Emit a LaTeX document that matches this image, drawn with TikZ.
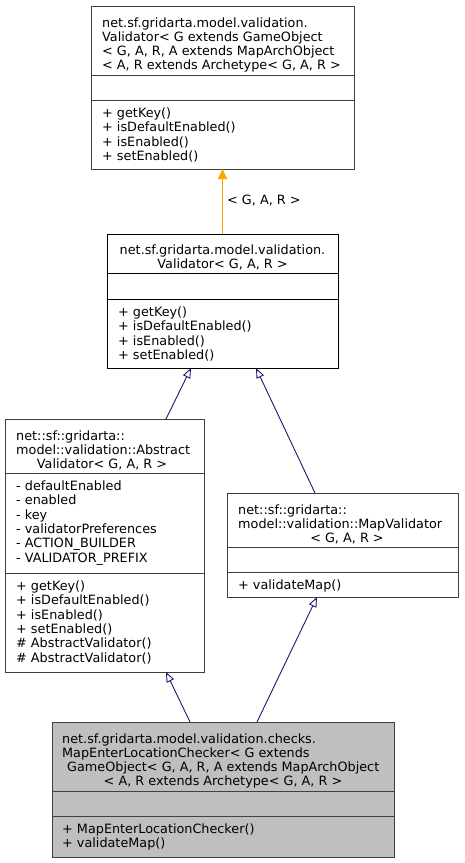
\documentclass[tikz,border=0pt]{standalone}
\usepackage{fontspec}
\setmainfont{DejaVu Sans}
\usetikzlibrary{arrows.meta}
\definecolor{bordergray}{HTML}{404040}
\definecolor{rootfill}{HTML}{BFBFBF}
\definecolor{edgeblue}{HTML}{191970}
\definecolor{tmplorange}{HTML}{FFA500}
\begin{document}
\begin{tikzpicture}[x=1pt,y=-1pt,
  font=\fontsize{12.8}{14.3}\selectfont,
  classbox/.style={draw=bordergray, fill=white, line width=1pt, inner sep=0pt, outer sep=0pt, anchor=north west},
  sepline/.style={draw=bordergray, line width=1pt},
  lt/.style={inner sep=0pt, anchor=base west},
  ct/.style={inner sep=0pt, anchor=base},
  inherit/.style={draw=edgeblue, line width=0.9pt, -{Triangle[open, length=10pt, width=8pt, fill=white]}},
  tmpl/.style={draw=tmplorange, line width=0.9pt, -{Triangle[length=10pt, width=9pt]}}
]
\useasboundingbox (0,0) rectangle (464,863);

% ---------- Box 1 ----------
\node[classbox, minimum width=263pt, minimum height=163pt] (b1) at (91,6) {};
\draw[sepline] (91,75) -- (354,75);
\draw[sepline] (91,100) -- (354,100);
\node[lt] (b1t1) at (102,27) {net.sf.gridarta.model.validation.};
\node[lt] (b1t2) at (102,41.3) {Validator< G extends GameObject};
\node[lt] (b1t3) at (102,55.6) {< G, A, R, A extends MapArchObject};
\node[lt] (b1t4) at (102,69.9) {< A, R extends Archetype< G, A, R >};
\node[lt] (b1m1) at (102,117.5) {+ getKey()};
\node[lt] (b1m2) at (102,131.8) {+ isDefaultEnabled()};
\node[lt] (b1m3) at (102,146.1) {+ isEnabled()};
\node[lt] (b1m4) at (102,160.4) {+ setEnabled()};

% ---------- Box 2 ----------
\node[classbox, draw=black, minimum width=231pt, minimum height=134pt] (b2) at (107,234) {};
\draw[sepline, draw=black] (107,273) -- (338,273);
\draw[sepline, draw=black] (107,299) -- (338,299);
\node[ct] (b2t1) at (222.5,254) {net.sf.gridarta.model.validation.};
\node[ct] (b2t2) at (222.5,268.3) {Validator< G, A, R >};
\node[lt] (b2m1) at (118,316.5) {+ getKey()};
\node[lt] (b2m2) at (118,330.8) {+ isDefaultEnabled()};
\node[lt] (b2m3) at (118,345.1) {+ isEnabled()};
\node[lt] (b2m4) at (118,359.4) {+ setEnabled()};

% ---------- Box 3 ----------
\node[classbox, minimum width=199pt, minimum height=253pt] (b3) at (5,419) {};
\draw[sepline] (5,473) -- (204,473);
\draw[sepline] (5,573) -- (204,573);
\node[lt] (b3t1) at (16,440) {net::sf::gridarta::};
\node[lt] (b3t2) at (16,454.3) {model::validation::Abstract};
\node[ct] (b3t3) at (102,468.6) {Validator< G, A, R >};
\node[lt] (b3a1) at (16,490.5) {- defaultEnabled};
\node[lt] (b3a2) at (16,504.8) {- enabled};
\node[lt] (b3a3) at (16,519.1) {- key};
\node[lt] (b3a4) at (16,533.4) {- validatorPreferences};
\node[lt] (b3a5) at (16,547.7) {- ACTION\_BUILDER};
\node[lt] (b3a6) at (16,562) {- VALIDATOR\_PREFIX};
\node[lt] (b3m1) at (16,590.5) {+ getKey()};
\node[lt] (b3m2) at (16,604.8) {+ isDefaultEnabled()};
\node[lt] (b3m3) at (16,619.1) {+ isEnabled()};
\node[lt] (b3m4) at (16,633.4) {+ setEnabled()};
\node[lt] (b3m5) at (16,647.7) {\# AbstractValidator()};
\node[lt] (b3m6) at (16,662) {\# AbstractValidator()};

% ---------- Box 4 ----------
\node[classbox, minimum width=231pt, minimum height=104pt] (b4) at (227,493) {};
\draw[sepline] (227,547) -- (458,547);
\draw[sepline] (227,572) -- (458,572);
\node[lt] (b4t1) at (238,514) {net::sf::gridarta::};
\node[lt] (b4t2) at (238,528.3) {model::validation::MapValidator};
\node[ct] (b4t3) at (347,542.6) {< G, A, R >};
\node[lt] (b4m1) at (238,589.5) {+ validateMap()};

% ---------- Box 5 ----------
\node[classbox, fill=rootfill, minimum width=342pt, minimum height=135pt] (b5) at (52,722) {};
\draw[sepline] (52,791) -- (394,791);
\draw[sepline] (52,816) -- (394,816);
\node[lt] (b5t1) at (62,743) {net.sf.gridarta.model.validation.checks.};
\node[lt] (b5t2) at (62,757.3) {MapEnterLocationChecker< G extends};
\node[lt] (b5t3) at (67,771.6) {GameObject< G, A, R, A extends MapArchObject};
\node[ct] (b5t4) at (223,785.9) {< A, R extends Archetype< G, A, R >};
\node[lt] (b5m1) at (62,833.5) {+ MapEnterLocationChecker()};
\node[lt] (b5m2) at (62,847.8) {+ validateMap()};

% ---------- connector end points ----------
\coordinate (e1s) at (222.5,234);
\coordinate (e1t) at (222.5,169);
\coordinate (e2s) at (166,419);
\coordinate (e2t) at (191,368);
\coordinate (e3s) at (315,493);
\coordinate (e3t) at (256,368);
\coordinate (e4s) at (190,722);
\coordinate (e4t) at (166,672);
\coordinate (e5s) at (257,722);
\coordinate (e5t) at (317,597);

\draw[tmpl] (e1s) -- (e1t);
\node[lt] (lbl) at (227,204.5) {< G, A, R >};
\draw[inherit] (e2s) -- (e2t);
\draw[inherit] (e3s) -- (e3t);
\draw[inherit] (e4s) -- (e4t);
\draw[inherit] (e5s) -- (e5t);
\end{tikzpicture}
\end{document}
